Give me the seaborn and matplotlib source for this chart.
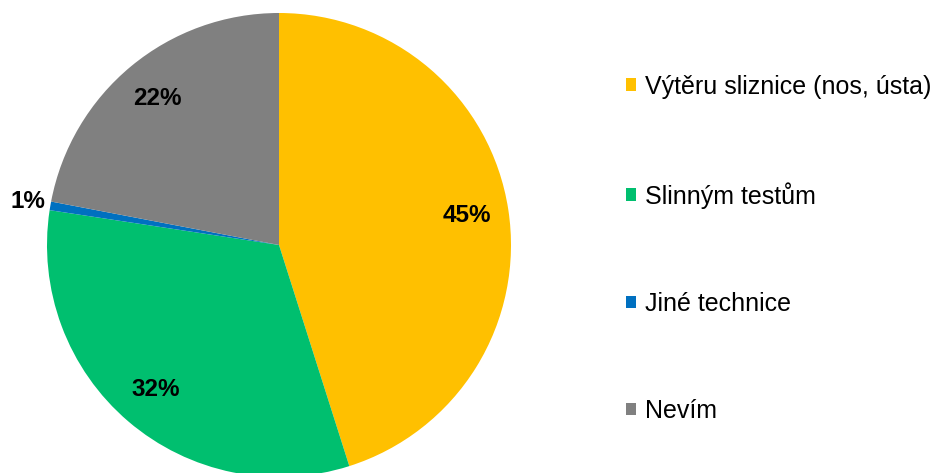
import matplotlib
matplotlib.use('Agg')
import matplotlib.pyplot as plt
import seaborn as sns

labels = ['Výtěru sliznice (nos, ústa)', 'Slinným testům', 'Jiné technice', 'Nevím']
values = [45.1, 32.3, 0.6, 22.0]
colors = ['#FFC000', '#00BF6F', '#0070C0', '#808080']

sns.set_theme(style='white')
plt.rcParams['font.family'] = ['Liberation Sans', 'DejaVu Sans']
plt.rcParams['text.color'] = 'black'

fig = plt.figure(figsize=(9.38, 4.73), dpi=100)
ax = fig.add_axes([47 / 938, -4 / 473, 464 / 938, 464 / 473])

wedges, texts, autotexts = ax.pie(values, colors=colors, startangle=90, counterclock=False,
                                  autopct='%.0f%%', pctdistance=0.82,
                                  textprops={'fontsize': 17.5, 'fontweight': 'bold', 'color': 'black'},
                                  wedgeprops={'linewidth': 0})
# small slice label sits outside
x, y = autotexts[2].get_position()
autotexts[2].set_position((x * 1.1 / 0.82, y * 1.1 / 0.82))
ax.set_xlim(-1, 1)
ax.set_ylim(-1, 1)
ax.set_aspect('equal')
ax.axis('off')

fig.legend(wedges, labels, loc='center left', bbox_to_anchor=(0.654, 0.474),
           frameon=False, fontsize=18, labelspacing=3.33, handlelength=0.4,
           handleheight=0.4, handletextpad=0.35, borderpad=0)

fig.savefig('out.png', dpi=100)
